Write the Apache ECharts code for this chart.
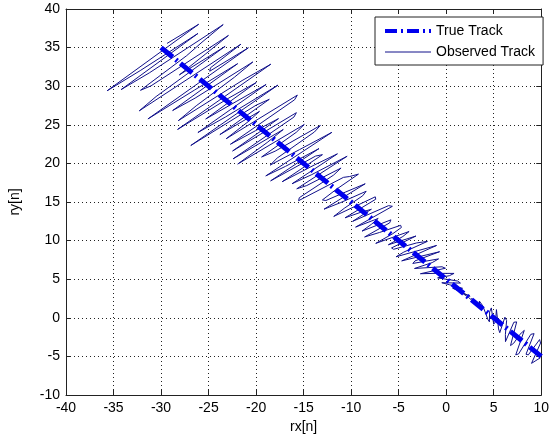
<!DOCTYPE html>
<html>
<head>
<meta charset="utf-8">
<title>Track</title>
<script src="https://cdn.jsdelivr.net/npm/echarts@6/dist/echarts.min.js"></script>
<style>
  html, body { margin: 0; padding: 0; background: #fff; }
  #chart { width: 552px; height: 441px; }
</style>
</head>
<body>
<div id="chart"></div>
<script>
// true track endpoints
const trueX = [-30, 10];
const trueY = [35, -5];

// observed track
const obsX = [
  -29.37, -26.04, -35.67, -32.19, -26.12, -34.20, -31.23, -23.46, -25.69, -27.30,
  -32.16, -31.05, -22.91, -25.36, -28.07, -23.26, -30.52, -32.29, -21.60, -24.80,
  -24.88, -20.81, -31.38, -26.49, -21.94, -28.78, -26.41, -20.34, -22.28, -26.30,
  -28.18, -21.47, -18.45, -28.26, -22.95, -19.98, -25.30, -22.10, -18.95, -26.12,
  -23.22, -17.70, -26.87, -19.97, -18.61, -23.81, -19.64, -20.83, -23.14, -15.66,
  -15.95, -22.70, -20.04, -17.64, -22.47, -15.76, -16.02, -22.42, -17.14, -18.83,
  -21.93, -14.93, -15.77, -19.42, -18.00, -13.24, -13.86, -17.77, -18.52, -15.44,
  -12.03, -18.98, -16.90, -13.38, -18.47, -13.74, -13.02, -17.25, -13.88, -11.44,
  -16.22, -14.14, -10.42, -15.72, -14.67, -11.06, -11.84, -15.45, -15.53, -10.81,
  -10.16, -9.23, -11.60, -13.02, -12.66, -10.57, -8.52, -12.85, -11.09, -8.42,
  -8.78, -10.73, -11.83, -7.46, -7.41, -10.64, -9.05, -7.87, -9.85, -6.06,
  -5.66, -9.53, -7.15, -7.85, -8.85, -5.81, -5.95, -8.58, -7.02, -4.79,
  -4.71, -5.61, -7.41, -3.90, -4.56, -6.08, -3.18, -5.75, -5.53, -3.10,
  -1.97, -4.46, -5.28, -1.01, -2.95, -4.68, -0.69, -3.28, -3.51, -0.80,
  -1.47, -3.33, -3.18, -0.44, -0.08, -2.71, -1.06, 0.83, 0.33, -0.90,
  -1.05, 1.21, 1.50, -0.46, 0.36, 1.72, 1.37, 0.97, 0.68, 2.52,
  2.50, 1.65, 2.32, 3.25, 3.26, 2.67, 2.90, 3.57, 3.73, 3.49,
  3.86, 4.39, 4.55, 4.57, 4.75, 5.00, 5.19, 5.29, 5.51, 5.64,
  6.18, 6.36, 6.23, 6.24, 7.12, 7.42, 6.77, 7.11, 7.76, 8.22,
  7.32, 7.62, 8.91, 9.25, 8.40, 8.64, 9.83, 9.93, 8.98, 9.44,
  9.91
];
const obsY = [
  35.54, 38.02, 29.41, 32.02, 36.83, 29.56, 31.73, 37.98, 35.70, 33.96,
  29.47, 30.05, 36.57, 34.13, 31.47, 35.16, 28.66, 26.81, 35.44, 32.38,
  31.94, 34.98, 25.76, 29.49, 32.92, 26.85, 28.46, 33.14, 31.16, 27.46,
  25.54, 30.73, 32.85, 24.40, 28.41, 30.48, 25.75, 28.01, 30.22, 24.00,
  26.01, 30.14, 22.32, 27.56, 28.30, 23.73, 26.74, 25.41, 23.20, 28.84,
  28.24, 22.48, 24.25, 25.80, 21.61, 26.57, 26.00, 20.59, 24.39, 22.71,
  19.92, 25.04, 24.03, 20.83, 21.58, 24.91, 24.07, 20.70, 19.78, 21.78,
  24.02, 18.38, 19.62, 21.92, 17.74, 20.95, 21.13, 17.63, 19.79, 21.24,
  17.36, 18.55, 20.93, 16.71, 17.13, 19.40, 18.49, 15.56, 15.17, 18.19,
  18.30, 18.61, 16.60, 15.27, 15.19, 16.30, 17.36, 14.07, 14.93, 16.39,
  15.81, 14.18, 13.13, 15.67, 15.36, 12.95, 13.64, 14.06, 12.49, 14.53,
  14.44, 11.75, 12.87, 12.13, 11.23, 12.69, 12.29, 10.47, 11.05, 11.98,
  11.70, 10.90, 9.64, 11.18, 10.53, 9.46, 10.59, 9.05, 8.87, 9.70,
  9.90, 8.51, 7.90, 9.37, 8.30, 7.37, 8.56, 7.37, 7.04, 7.63,
  7.15, 6.39, 6.22, 6.61, 6.42, 5.71, 5.76, 5.75, 5.45, 5.17,
  5.00, 4.76, 4.50, 4.54, 4.28, 3.82, 3.75, 3.77, 3.83, 2.79,
  2.67, 3.23, 2.67, 1.70, 1.61, 2.50, 2.33, 1.24, 1.08, 2.17,
  1.54, -0.21, -0.52, 0.75, 1.28, -0.83, -0.51, 1.06, -1.44, -1.93,
  0.08, -0.36, -2.17, -3.09, -0.58, -0.53, -3.60, -3.29, -2.14, -1.63,
  -4.80, -4.68, -2.14, -2.05, -4.72, -4.81, -2.82, -3.27, -5.90, -5.54,
  -5.18
];

const zip = (xs, ys) => xs.map((x, i) => [x, ys[i]]);

const chart = echarts.init(document.getElementById('chart'));

const font = "'Liberation Sans', Arial, sans-serif";
const axisCommon = {
  type: 'value',
  interval: 5,
  axisLine: { onZero: false, lineStyle: { color: '#222', width: 1 } },
  axisTick: { inside: true, length: 5, lineStyle: { color: '#222' } },
};

const option = {
  animation: false,
  backgroundColor: '#fff',
  grid: { left: 58, right: 5, top: 9, bottom: 46, containLabel: false },
  legend: {
    orient: 'vertical',
    left: 375,
    top: 17,
    padding: [7, 8, 6, 8],
    itemGap: 7,
    itemWidth: 46,
    itemHeight: 14,
    backgroundColor: '#fff',
    borderColor: '#222',
    borderWidth: 1,
    borderRadius: 0,
    textStyle: { fontFamily: font, fontSize: 14, color: '#000' },
    data: [
      {
        name: 'True Track',
        itemStyle: { opacity: 0 },
        lineStyle: { width: 4, type: [12, 4, 2, 4], color: '#0000ee' }
      },
      {
        name: 'Observed Track',
        itemStyle: { opacity: 0 },
        lineStyle: { width: 1, color: '#10108a' }
      }
    ]
  },
  xAxis: [
    Object.assign({}, axisCommon, {
      min: -40, max: 10,
      name: 'rx[n]', nameLocation: 'middle', nameGap: 25,
      nameTextStyle: { fontFamily: font, fontSize: 14, color: '#000' },
      axisLabel: { fontFamily: font, fontSize: 14, color: '#000', margin: 6 },
      splitLine: { show: true, lineStyle: { color: '#222', type: [1, 3] } }
    }),
    Object.assign({}, axisCommon, {
      min: -40, max: 10, position: 'top',
      axisLabel: { show: false },
      splitLine: { show: false }
    })
  ],
  yAxis: [
    Object.assign({}, axisCommon, {
      min: -10, max: 40,
      name: 'ry[n]', nameLocation: 'middle', nameGap: 44,
      nameTextStyle: { fontFamily: font, fontSize: 14, color: '#000' },
      axisLabel: { fontFamily: font, fontSize: 14, color: '#000', margin: 6 },
      splitLine: { show: true, lineStyle: { color: '#222', type: [1, 3] } }
    }),
    Object.assign({}, axisCommon, {
      min: -10, max: 40, position: 'right',
      axisLabel: { show: false },
      splitLine: { show: false }
    })
  ],
  series: [
    {
      name: 'Observed Track',
      type: 'line',
      data: zip(obsX, obsY),
      symbol: 'none',
      lineStyle: { width: 1, color: '#10108a' },
      itemStyle: { color: '#10108a' },
      z: 2
    },
    {
      name: 'True Track',
      type: 'line',
      data: zip(trueX, trueY),
      symbol: 'none',
      lineStyle: { width: 5, color: '#0000ee', type: [15, 4, 2, 4] },
      itemStyle: { color: '#0000ee' },
      z: 3
    }
  ]
};

chart.setOption(option);
</script>
</body>
</html>
